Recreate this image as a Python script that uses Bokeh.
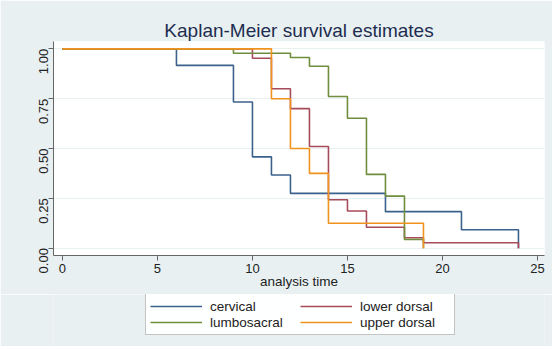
from math import pi
from bokeh.plotting import figure
from bokeh.layouts import column
from bokeh.models import FixedTicker, Legend, LegendItem, Range1d, CustomJSTickFormatter
from bokeh.embed import file_html
from bokeh.resources import INLINE

# Kaplan-Meier step data (time, survival)
cervical_t = [0, 6, 9, 10, 11, 12, 17, 21, 24]
cervical_s = [1.0, 0.917, 0.733, 0.458, 0.367, 0.275, 0.183, 0.092, 0.0]

lower_t = [0, 10, 11, 12, 13, 14, 15, 16, 18, 19, 24]
lower_s = [1.0, 0.953, 0.80, 0.70, 0.51, 0.243, 0.186, 0.105, 0.052, 0.027, 0.0]

lumbo_t = [0, 9, 12, 13, 14, 15, 16, 17, 18, 19]
lumbo_s = [1.0, 0.978, 0.957, 0.913, 0.761, 0.652, 0.370, 0.261, 0.043, 0.0]

upper_t = [0, 11, 12, 13, 14, 19]
upper_s = [1.0, 0.75, 0.5, 0.375, 0.125, 0.0]

groups = ["cervical", "lower dorsal", "lumbosacral", "upper dorsal"]
colors = ["#3B628C", "#A64B59", "#6E8E3E", "#F0921E"]
series = [(cervical_t, cervical_s), (lower_t, lower_s), (lumbo_t, lumbo_s), (upper_t, upper_s)]

x_ticks = [0, 5, 10, 15, 20, 25]
y_ticks = [0, 0.25, 0.5, 0.75, 1.0]

FONT = "Liberation Sans"
BG = "#E8F0F2"

p = figure(frame_width=491, frame_height=214, output_backend="svg", toolbar_location=None,
           x_range=Range1d(-0.47, 25.37), y_range=Range1d(-0.037, 1.037),
           min_border_left=53, min_border_right=8, min_border_top=41, min_border_bottom=39)
p.border_fill_color = BG
p.background_fill_color = "white"
p.outline_line_color = None

p.title.text = "Kaplan-Meier survival estimates"
p.title.align = "center"
p.title.text_font = FONT
p.title.text_font_size = "19px"
p.title.text_font_style = "normal"
p.title.text_color = "#1E2D4F"
p.title.standoff = 2

for (t, s), c in zip(series, colors):
    p.step(t, s, mode="after", line_color=c, line_width=1.6)

p.xgrid.visible = False
p.ygrid.grid_line_color = BG
p.ygrid.grid_line_width = 1.2

for ax in (p.xaxis[0], p.yaxis[0]):
    ax.axis_line_color = "#666666"
    ax.major_tick_line_color = "#666666"
    ax.minor_tick_line_color = None
    ax.major_tick_out = 5
    ax.major_tick_in = 0
    ax.major_label_text_font = FONT
    ax.major_label_text_font_size = "13px"
    ax.major_label_text_color = "#222222"

p.xaxis.ticker = FixedTicker(ticks=x_ticks)
p.yaxis.ticker = FixedTicker(ticks=y_ticks)
p.yaxis.formatter = CustomJSTickFormatter(code="return tick.toFixed(2);")
p.yaxis.major_label_orientation = pi / 2
p.yaxis.major_label_standoff = 5
p.xaxis.major_label_standoff = 3

p.xaxis.axis_label = "analysis time"
p.xaxis.axis_label_text_font = FONT
p.xaxis.axis_label_text_font_size = "13.5px"
p.xaxis.axis_label_text_font_style = "normal"
p.xaxis.axis_label_text_color = "#222222"
p.xaxis.axis_label_standoff = -2

# legend strip below the plot
q = figure(width=552, height=52, output_backend="svg", toolbar_location=None,
           x_axis_type=None, y_axis_type=None, min_border=0)
q.border_fill_color = BG
q.background_fill_color = BG
q.outline_line_color = None
q.xgrid.visible = False
q.ygrid.visible = False

items = []
for (t, s), c, g in zip(series, colors, groups):
    r = q.step(t, s, mode="after", line_color=c, line_width=1.6, visible=False)
    items.append(LegendItem(label=g, renderers=[r]))

legend = Legend(items=items, orientation="horizontal", ncols=2, location=(92, 11))
legend.label_text_font = FONT
legend.label_text_font_size = "13.5px"
legend.label_text_color = "#222222"
legend.glyph_width = 52
legend.glyph_height = 16
legend.label_height = 16
legend.label_width = 90
legend.label_standoff = 8
legend.spacing = 0
legend.padding = 4
legend.margin = 0
legend.border_line_color = "#888888"
legend.background_fill_color = "white"
q.add_layout(legend)

layout = column(p, q, spacing=0)
open("out.html", "w").write(file_html(layout, INLINE))
